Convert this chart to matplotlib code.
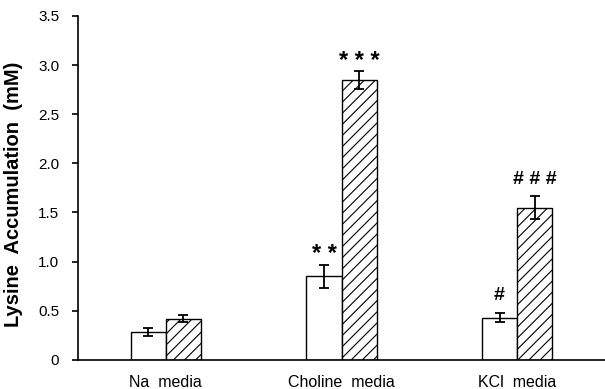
import numpy as np
import matplotlib
matplotlib.use('Agg')
import matplotlib.pyplot as plt

plt.rcParams['font.family'] = ['Liberation Sans', 'DejaVu Sans']
plt.rcParams['hatch.linewidth'] = 0.8

groups = ['Na  media', 'Choline  media', 'KCl  media']
control = [0.28, 0.85, 0.43]
control_err = [0.04, 0.12, 0.05]
treated = [0.42, 2.85, 1.55]
treated_err = [0.04, 0.09, 0.12]
control_marks = ['', '* *', '#']
treated_marks = ['', '* * *', '# # #']

x = np.arange(len(groups))
w = 0.2

fig = plt.figure(figsize=(6.05, 3.89), dpi=100)
ax = fig.add_axes([0.129, 0.075, 0.871, 0.884])

err_kw = dict(ecolor='black', elinewidth=1.3, capsize=3.5, capthick=1.3)
ax.bar(x - w / 2, control, w, yerr=control_err, color='white', edgecolor='black',
       linewidth=1.0, error_kw=err_kw, zorder=2)
ax.bar(x + w / 2, treated, w, yerr=treated_err, color='white', edgecolor='black',
       linewidth=1.0, hatch='///', error_kw=err_kw, zorder=2)


def mark(xpos, top, label):
    if not label:
        return
    # asterisks sit high in the line box, so they need less lift
    if '*' in label:
        off, size = 7, 17
    else:
        off, size = 12, 14
    ax.annotate(label, (xpos, top), xytext=(0, off), textcoords='offset points',
                ha='center', va='center', fontsize=size, fontweight='bold')


for i in range(len(groups)):
    mark(x[i] - w / 2, control[i] + control_err[i], control_marks[i])
    mark(x[i] + w / 2, treated[i] + treated_err[i], treated_marks[i])

ax.set_xlim(-0.5, 2.5)
ax.set_ylim(0, 3.5)
ax.set_yticks(np.arange(0, 3.51, 0.5))
ax.set_yticklabels(['0', '0.5', '1.0', '1.5', '2.0', '2.5', '3.0', '3.5'], fontsize=11)
ax.set_xticks(x)
ax.set_xticklabels(groups, fontsize=11.5)
ax.tick_params(axis='x', length=0, pad=11)
ax.tick_params(axis='y', direction='out', length=4.5, width=1.2, pad=9)
ax.set_ylabel('Lysine  Accumulation  (mM)', fontsize=14.5, fontweight='bold')
ax.yaxis.set_label_coords(-0.104, 0.48)
for s in ['top', 'right']:
    ax.spines[s].set_visible(False)
ax.spines['left'].set_linewidth(1.2)
ax.spines['bottom'].set_linewidth(1.2)

fig.savefig('out.png', dpi=100)
